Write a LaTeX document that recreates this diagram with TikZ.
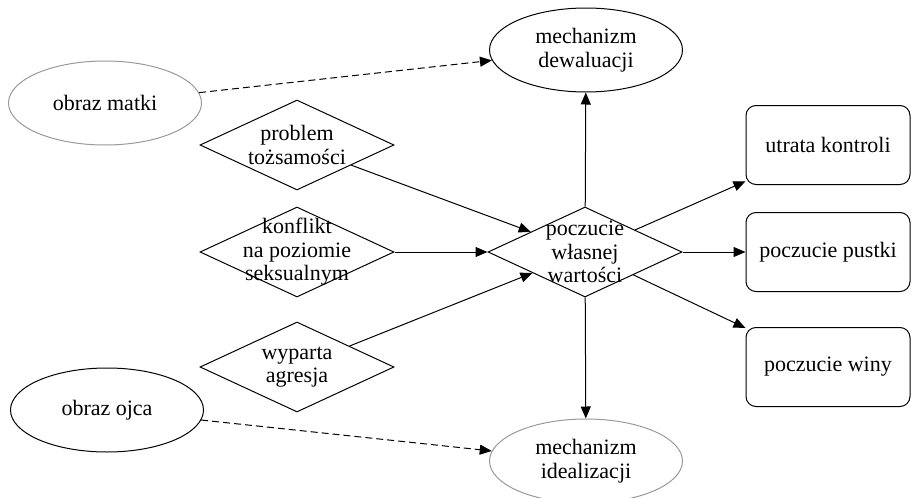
\documentclass[tikz,border=0pt]{standalone}
\usepackage{fontspec}
\setmainfont{Liberation Serif}
\usetikzlibrary{shapes.geometric, arrows.meta}

\tikzset{
  oval/.style={ellipse, draw, minimum width=96.5pt, minimum height=42pt, inner sep=0pt, align=center},
  ovalgray/.style={oval, draw=gray!80},
  diam/.style={diamond, draw, minimum width=97pt, minimum height=45pt, inner sep=0pt},
  outbox/.style={draw, rounded corners=5pt, minimum width=82pt, minimum height=39.5pt, inner sep=0pt},
  arr/.style={-{Triangle[length=6pt,width=5pt]}},
  darr/.style={arr, dash pattern=on 3.5pt off 2pt}
}

\begin{document}
\begin{tikzpicture}[x=0.5pt, y=-0.5pt, font=\fontsize{11}{11.8}\selectfont, line width=0.5pt]
\useasboundingbox (0,0) rectangle (911,498);

% Left ovals
\node[ovalgray] (matki) at (105,103) {obraz matki};
\node[oval] (ojca) at (107,410) {obraz ojca};

% Middle diamonds
\node[diam, label={[align=center]center:problem\\tożsamości}] (tozsam) at (297,145) {};
\node[diam, label={[align=center]center:konflikt\\na poziomie\\seksualnym}] (konflikt) at (297,252) {};
\node[diam, label={[align=center]center:wyparta\\agresja}] (agresja) at (297,367) {};

% Central diamond
\node[diam, label={[align=center]center:poczucie\\własnej\\wartości}] (wartosc) at (585,252) {};

% Mechanisms
\node[oval] (dewal) at (586,50) {mechanizm\\dewaluacji};
\node[ovalgray] (ideal) at (586,461) {mechanizm\\idealizacji};

% Right boxes
\node[outbox] (kontrola) at (828,145) {utrata kontroli};
\node[outbox] (pustka) at (828,252) {poczucie pustki};
\node[outbox] (wina) at (828,367) {poczucie winy};

% Connectors
\draw[darr] (matki) -- (dewal);
\draw[darr] (ojca) -- (ideal);
\foreach \src in {tozsam, konflikt, agresja}
  \draw[arr] (\src) -- (wartosc);
\foreach \dst in {dewal, ideal, kontrola, pustka, wina}
  \draw[arr] (wartosc) -- (\dst);

\end{tikzpicture}
\end{document}
